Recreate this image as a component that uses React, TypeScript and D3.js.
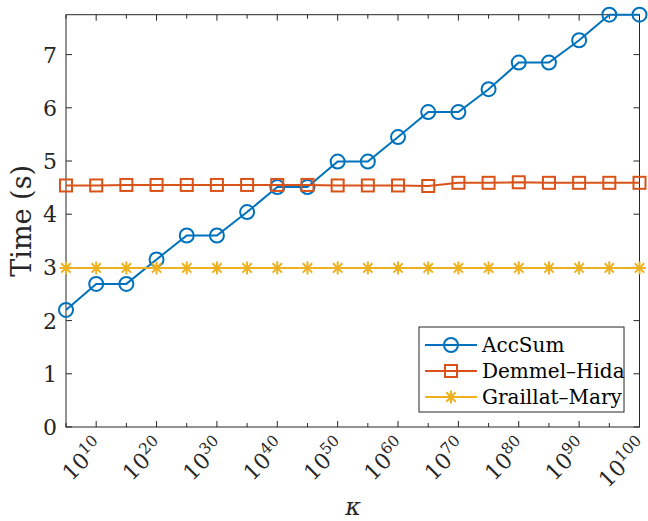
import React from "react";
import * as d3 from "d3";

// Condition numbers κ = 10^5 … 10^100 (step 10^5)
const exponents = [5, 10, 15, 20, 25, 30, 35, 40, 45, 50, 55, 60, 65, 70, 75, 80, 85, 90, 95, 100];
const accSum = [2.2, 2.69, 2.69, 3.15, 3.6, 3.6, 4.04, 4.51, 4.51, 4.99, 4.99, 5.45, 5.92, 5.92, 6.35, 6.85, 6.85, 7.27, 7.75, 7.75];
const demmelHida = [4.54, 4.54, 4.55, 4.55, 4.55, 4.55, 4.55, 4.55, 4.55, 4.54, 4.54, 4.54, 4.53, 4.59, 4.59, 4.6, 4.59, 4.59, 4.59, 4.59];
const graillatMary = [2.99, 2.99, 2.99, 2.99, 2.99, 2.99, 2.99, 2.99, 2.99, 2.99, 2.99, 2.99, 2.99, 2.99, 2.99, 2.99, 2.99, 2.99, 2.99, 2.99];
const yTicks = [0, 1, 2, 3, 4, 5, 6, 7];
const xLabelExps = [10, 20, 30, 40, 50, 60, 70, 80, 90, 100];
const seriesNames = ["AccSum", "Demmel–Hida", "Graillat–Mary"];

const W = 648;
const H = 521;
const FONT = "'DejaVu Serif', serif";
const AXIS = "#262626";
const COLORS = ["#0072BD", "#D95319", "#EDB120"];

const x = d3.scaleLog().domain([1e5, 1e100]).range([66, 639.5]);
const y = d3.scaleLinear().domain([0, 7.75]).range([427, 14.7]);

type Marker = "circle" | "square" | "star";

function MarkerShape({ kind, cx, cy, color }: { kind: Marker; cx: number; cy: number; color: string }) {
  if (kind === "circle") {
    return <circle cx={cx} cy={cy} r={7} fill="none" stroke={color} strokeWidth={2} />;
  }
  if (kind === "square") {
    return <rect x={cx - 6} y={cy - 6} width={12} height={12} fill="none" stroke={color} strokeWidth={2} />;
  }
  const r = 6.5;
  const d = r * 0.72;
  return (
    <g stroke={color} strokeWidth={2}>
      <line x1={cx} y1={cy - r} x2={cx} y2={cy + r} />
      <line x1={cx - r} y1={cy} x2={cx + r} y2={cy} />
      <line x1={cx - d} y1={cy - d} x2={cx + d} y2={cy + d} />
      <line x1={cx - d} y1={cy + d} x2={cx + d} y2={cy - d} />
    </g>
  );
}

const txt = { fontFamily: FONT };

export default function App() {
  const series: { values: number[]; marker: Marker }[] = [
    { values: accSum, marker: "circle" },
    { values: demmelHida, marker: "square" },
    { values: graillatMary, marker: "star" },
  ];
  const line = d3
    .line<number>()
    .x((_, i) => x(Math.pow(10, exponents[i])))
    .y((v) => y(v));

  const [x0, x1] = x.range();
  const [y0, y1] = y.range();

  const legend = { x: 419, y: 327, w: 205, h: 85 };
  const rowY = [345, 371, 397];

  return (
    <svg width={W} height={H} style={{ position: "absolute", left: 0, top: 0 }}>
      <rect width={W} height={H} fill="#fff" />

      {/* axes box */}
      <rect x={x0} y={y1} width={x1 - x0} height={y0 - y1} fill="none" stroke={AXIS} strokeWidth={1} />

      {/* x ticks (bottom & top); labelled decades get longer ticks */}
      {exponents.map((e) => {
        const px = x(Math.pow(10, e));
        const len = e % 10 === 0 ? 6 : 4;
        return (
          <g key={"xt" + e} stroke={AXIS} strokeWidth={1}>
            <line x1={px} x2={px} y1={y0} y2={y0 - len} />
            <line x1={px} x2={px} y1={y1} y2={y1 + len} />
          </g>
        );
      })}

      {/* y ticks (left & right) */}
      {yTicks.map((t) => {
        const py = y(t);
        return (
          <g key={"yt" + t}>
            <line x1={x0} x2={x0 + 6} y1={py} y2={py} stroke={AXIS} />
            <line x1={x1} x2={x1 - 6} y1={py} y2={py} stroke={AXIS} />
            <text x={57} y={py} dy="0.36em" textAnchor="end" fontSize={22} fill={AXIS} style={txt}>
              {t}
            </text>
          </g>
        );
      })}

      {/* x tick labels, rotated */}
      {xLabelExps.map((e) => {
        const px = x(Math.pow(10, e));
        return (
          <text
            key={"xl" + e}
            transform={`translate(${px + 9},${y0 + 21}) rotate(-45)`}
            textAnchor="end"
            fontSize={22}
            fill={AXIS}
            style={txt}
          >
            10
            <tspan fontSize={15.5} dy={-9}>
              {e}
            </tspan>
          </text>
        );
      })}

      {/* axis titles */}
      <text x={353} y={515} textAnchor="middle" fontSize={24} fontStyle="italic" fill={AXIS} style={txt}>
        κ
      </text>
      <text
        transform={`translate(31,${(y0 + y1) / 2}) rotate(-90)`}
        textAnchor="middle"
        fontSize={27}
        fill={AXIS}
        style={txt}
      >
        Time (s)
      </text>

      {/* series */}
      {series.map((s, si) => (
        <g key={"s" + si}>
          <path d={line(s.values) || ""} fill="none" stroke={COLORS[si]} strokeWidth={2} />
          {s.values.map((v, i) => (
            <MarkerShape key={i} kind={s.marker} cx={x(Math.pow(10, exponents[i]))} cy={y(v)} color={COLORS[si]} />
          ))}
        </g>
      ))}

      {/* legend */}
      <rect x={legend.x} y={legend.y} width={legend.w} height={legend.h} fill="#fff" stroke={AXIS} strokeWidth={1} />
      {seriesNames.map((name, i) => (
        <g key={"lg" + i}>
          <line x1={425} x2={477} y1={rowY[i]} y2={rowY[i]} stroke={COLORS[i]} strokeWidth={2} />
          <MarkerShape kind={series[i].marker} cx={451} cy={rowY[i]} color={COLORS[i]} />
          <text x={482} y={rowY[i]} dy="0.35em" fontSize={20} fill="#000" style={txt}>
            {name}
          </text>
        </g>
      ))}
    </svg>
  );
}
